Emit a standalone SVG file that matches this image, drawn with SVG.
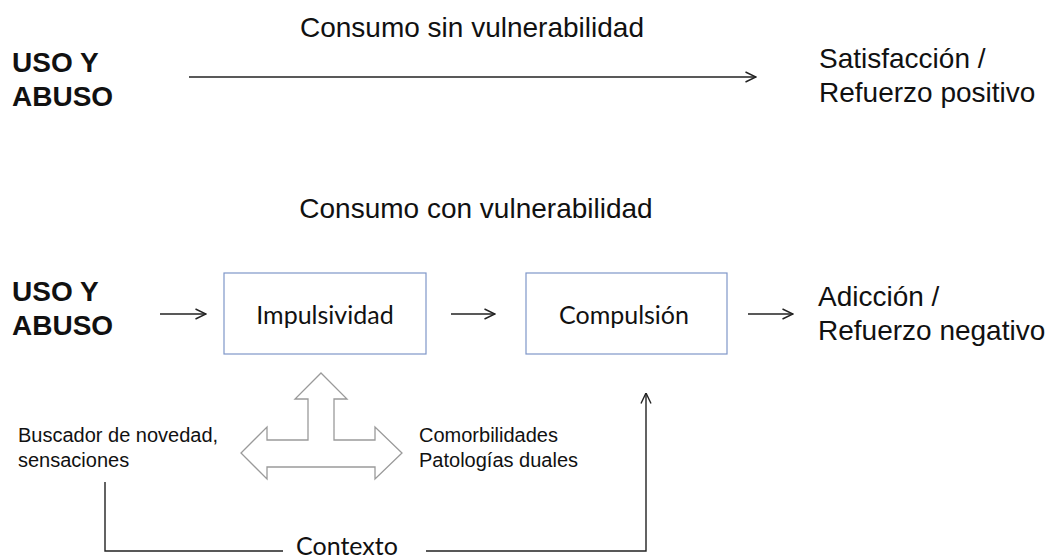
<svg xmlns="http://www.w3.org/2000/svg" width="1055" height="558" viewBox="0 0 1055 558">
  <style>
    .t { font-family: "Liberation Sans", Arial, sans-serif; fill: #111; }
    .big { font-size: 28px; }
    .bold { font-size: 28px; font-weight: bold; }
    .small { font-size: 20px; }
    .box { fill: #fff; stroke: #7f97c9; stroke-width: 1.2; }
    .boxt { font-family: Lato, "Liberation Sans", sans-serif; font-size: 25px; fill: #111; }
    .ln { fill: none; stroke: #222; stroke-width: 1.4; }
    .hollow { fill: #fff; stroke: #9a9a9a; stroke-width: 1.3; stroke-linejoin: miter; }
  </style>
  <defs>
    <marker id="arr" viewBox="0 0 12 12" refX="11.5" refY="6" markerWidth="12" markerHeight="12" markerUnits="userSpaceOnUse" orient="auto">
      <path d="M1,1 L11.5,6 L1,11" fill="none" stroke="#222" stroke-width="1.4"/>
    </marker>
  </defs>
  <rect width="1055" height="558" fill="#fff"/>

  <g id="title-top">
    <text class="t big" x="472" y="37" text-anchor="middle">Consumo sin vulnerabilidad</text>
  </g>
  <g id="uso-top">
    <text class="t bold" x="12" y="72">USO Y</text>
    <text class="t bold" x="12" y="106">ABUSO</text>
  </g>
  <g id="satisfaccion">
    <text class="t big" x="819" y="68">Satisfacción /</text>
    <text class="t big" x="819" y="102">Refuerzo positivo</text>
  </g>

  <g id="title-bottom">
    <text class="t big" x="476" y="218" text-anchor="middle">Consumo con vulnerabilidad</text>
  </g>
  <g id="uso-bottom">
    <text class="t bold" x="12" y="301">USO Y</text>
    <text class="t bold" x="12" y="335">ABUSO</text>
  </g>
  <g id="impulsividad">
    <rect class="box" x="224" y="273" width="202" height="81"/>
    <text class="boxt" x="325" y="324" text-anchor="middle">Impulsividad</text>
  </g>
  <g id="compulsion">
    <rect class="box" x="526" y="273" width="201" height="81"/>
    <text class="boxt" x="624" y="324" text-anchor="middle">Compulsión</text>
  </g>
  <g id="adiccion">
    <text class="t big" x="818" y="306">Adicción /</text>
    <text class="t big" x="818" y="340">Refuerzo negativo</text>
  </g>
  <g id="buscador">
    <text class="t small" x="18" y="442">Buscador de novedad,</text>
    <text class="t small" x="18" y="467">sensaciones</text>
  </g>
  <g id="comorbilidades">
    <text class="t small" x="419" y="442">Comorbilidades</text>
    <text class="t small" x="419" y="467">Patologías duales</text>
  </g>
  <g id="triple-arrow">
    <polygon class="hollow" points="321,373 347,399 334,399 334,440 375,440 375,427 402,453 375,479 375,467 267,467 267,479 241,453 267,427 267,440 308,440 308,399 295,399"/>
  </g>
  <g id="contexto">
    <text class="boxt" x="296" y="555">Contexto</text>
  </g>

  <g id="connectors">
    <line class="ln" x1="189" y1="77" x2="756" y2="77" marker-end="url(#arr)"/>
    <line class="ln" x1="160" y1="314" x2="206" y2="314" marker-end="url(#arr)"/>
    <line class="ln" x1="451" y1="314" x2="495" y2="314" marker-end="url(#arr)"/>
    <line class="ln" x1="748" y1="314" x2="793" y2="314" marker-end="url(#arr)"/>
    <path class="ln" d="M105,482 V551 H283"/>
    <path class="ln" d="M426,551 H646 V393" marker-end="url(#arr)"/>
  </g>
</svg>
